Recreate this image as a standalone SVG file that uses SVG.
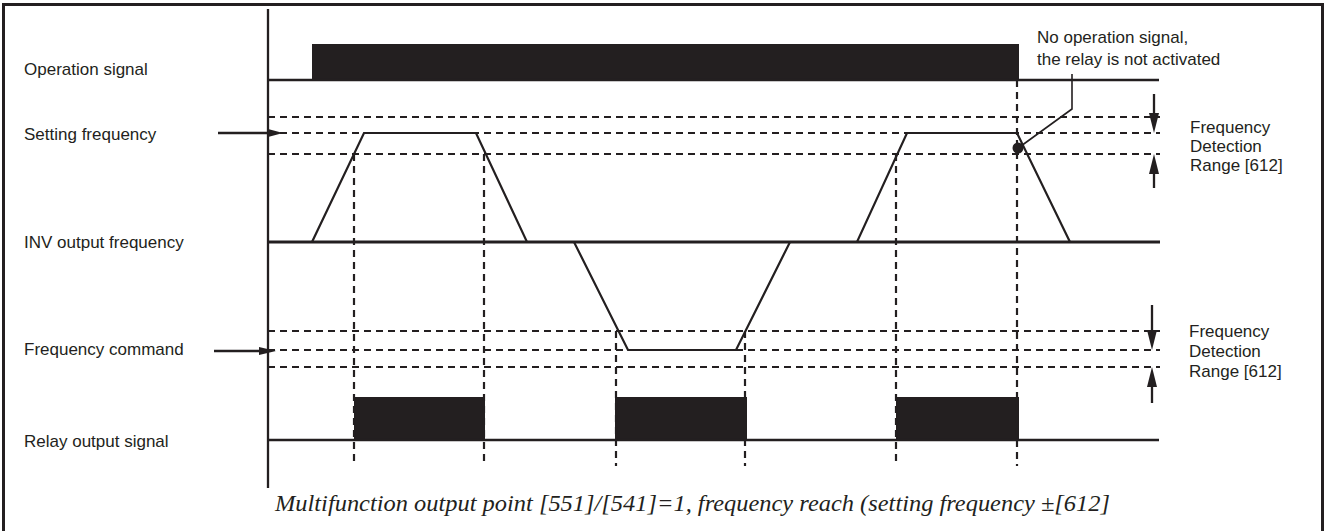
<svg xmlns="http://www.w3.org/2000/svg" width="1325" height="531" viewBox="0 0 1325 531">
<defs>
<style>
.lbl{font-family:"Liberation Sans",Arial,sans-serif;font-size:17px;fill:#231f20}
.cap{font-family:"Liberation Serif","Times New Roman",serif;font-style:italic;font-size:24px;fill:#231f20}
.sol{stroke:#231f20;stroke-width:2.3;fill:none}
.thick{stroke:#231f20;stroke-width:3;fill:none}
.wave{stroke:#231f20;stroke-width:2.2;fill:none;stroke-linejoin:miter}
.dash{stroke:#231f20;stroke-width:2.2;fill:none;stroke-dasharray:7 5}
.bar{fill:#231f20}
.thin{stroke:#231f20;stroke-width:1.6;fill:none}
.head{fill:#231f20}
</style>
</defs>
<rect x="3.5" y="4.5" width="1319" height="540" fill="#ffffff" stroke="#231f20" stroke-width="3"/>
<line x1="268" y1="9" x2="268" y2="488" class="sol"/>

<g id="operation-signal">
<text x="24" y="75" class="lbl">Operation signal</text>
<rect x="312" y="44" width="707" height="36" class="bar"/>
<line x1="268" y1="80" x2="1159" y2="80" class="sol"/>
</g>

<g id="setting-frequency">
<text x="24" y="140" class="lbl">Setting frequency</text>
<line x1="268" y1="117" x2="1160" y2="117" class="dash"/>
<line x1="268" y1="133" x2="1160" y2="133" class="dash"/>
<line x1="268" y1="154" x2="1160" y2="154" class="dash"/>
</g>

<g id="inv-output-frequency">
<text x="24" y="248" class="lbl">INV output frequency</text>
<line x1="268" y1="242" x2="1160" y2="242" class="thick"/>
<polyline points="312,242 364,133 476,133 527,242 574,242 628,350 736,350 790,242 857,242 907,133 1017,133 1070,242" class="wave"/>
</g>

<g id="frequency-command">
<text x="24" y="355" class="lbl">Frequency command</text>
<line x1="268" y1="331" x2="1160" y2="331" class="dash"/>
<line x1="268" y1="350" x2="1160" y2="350" class="dash"/>
<line x1="268" y1="367" x2="1160" y2="367" class="dash"/>
</g>

<g id="relay-output-signal">
<text x="24" y="447" class="lbl">Relay output signal</text>
<rect x="354" y="397" width="131" height="43" class="bar"/>
<rect x="615" y="397" width="132" height="43" class="bar"/>
<rect x="896" y="397" width="123" height="43" class="bar"/>
<line x1="268" y1="440" x2="1159" y2="440" class="sol"/>
</g>

<g id="time-markers">
<line x1="354" y1="154" x2="354" y2="466" class="dash"/>
<line x1="484" y1="154" x2="484" y2="466" class="dash"/>
<line x1="616" y1="331" x2="616" y2="466" class="dash"/>
<line x1="745" y1="331" x2="745" y2="466" class="dash"/>
<line x1="896" y1="154" x2="896" y2="466" class="dash"/>
<line x1="1017" y1="80" x2="1017" y2="466" class="dash"/>
</g>

<g id="range-label-1">
<text class="lbl"><tspan x="1190" y="133">Frequency</tspan><tspan x="1190" y="152">Detection</tspan><tspan x="1190" y="171">Range [612]</tspan></text>
</g>
<g id="range-label-2">
<text class="lbl"><tspan x="1189" y="337">Frequency</tspan><tspan x="1189" y="357">Detection</tspan><tspan x="1189" y="377">Range [612]</tspan></text>
</g>

<g id="note">
<text class="lbl"><tspan x="1037" y="43">No operation signal,</tspan><tspan x="1037" y="65">the relay is not activated</tspan></text>
<circle cx="1018" cy="148" r="5.5" fill="#231f20"/>
</g>

<g id="connectors">
<line x1="218" y1="133" x2="268" y2="133" class="sol"/>
<polygon points="268,129 283,133 268,137" class="head"/>
<line x1="214" y1="351" x2="260" y2="351" class="sol"/>
<polygon points="259,347 276,351 259,355" class="head"/>
<line x1="1154" y1="94" x2="1154" y2="114" class="sol"/>
<polygon points="1149,113 1159,113 1154,133" class="head"/>
<line x1="1154" y1="172" x2="1154" y2="188" class="sol"/>
<polygon points="1149,174 1159,174 1154,154" class="head"/>
<line x1="1152" y1="305" x2="1152" y2="331" class="sol"/>
<polygon points="1147,330 1157,330 1152,350" class="head"/>
<line x1="1152" y1="385" x2="1152" y2="403" class="sol"/>
<polygon points="1147,387 1157,387 1152,367" class="head"/>
<polyline points="1072,74 1072,109 1021,146" class="thin"/>
</g>

<text x="275" y="511" class="cap" textLength="835" lengthAdjust="spacingAndGlyphs">Multifunction output point [551]/[541]=1, frequency reach (setting frequency ±[612]</text>
</svg>
